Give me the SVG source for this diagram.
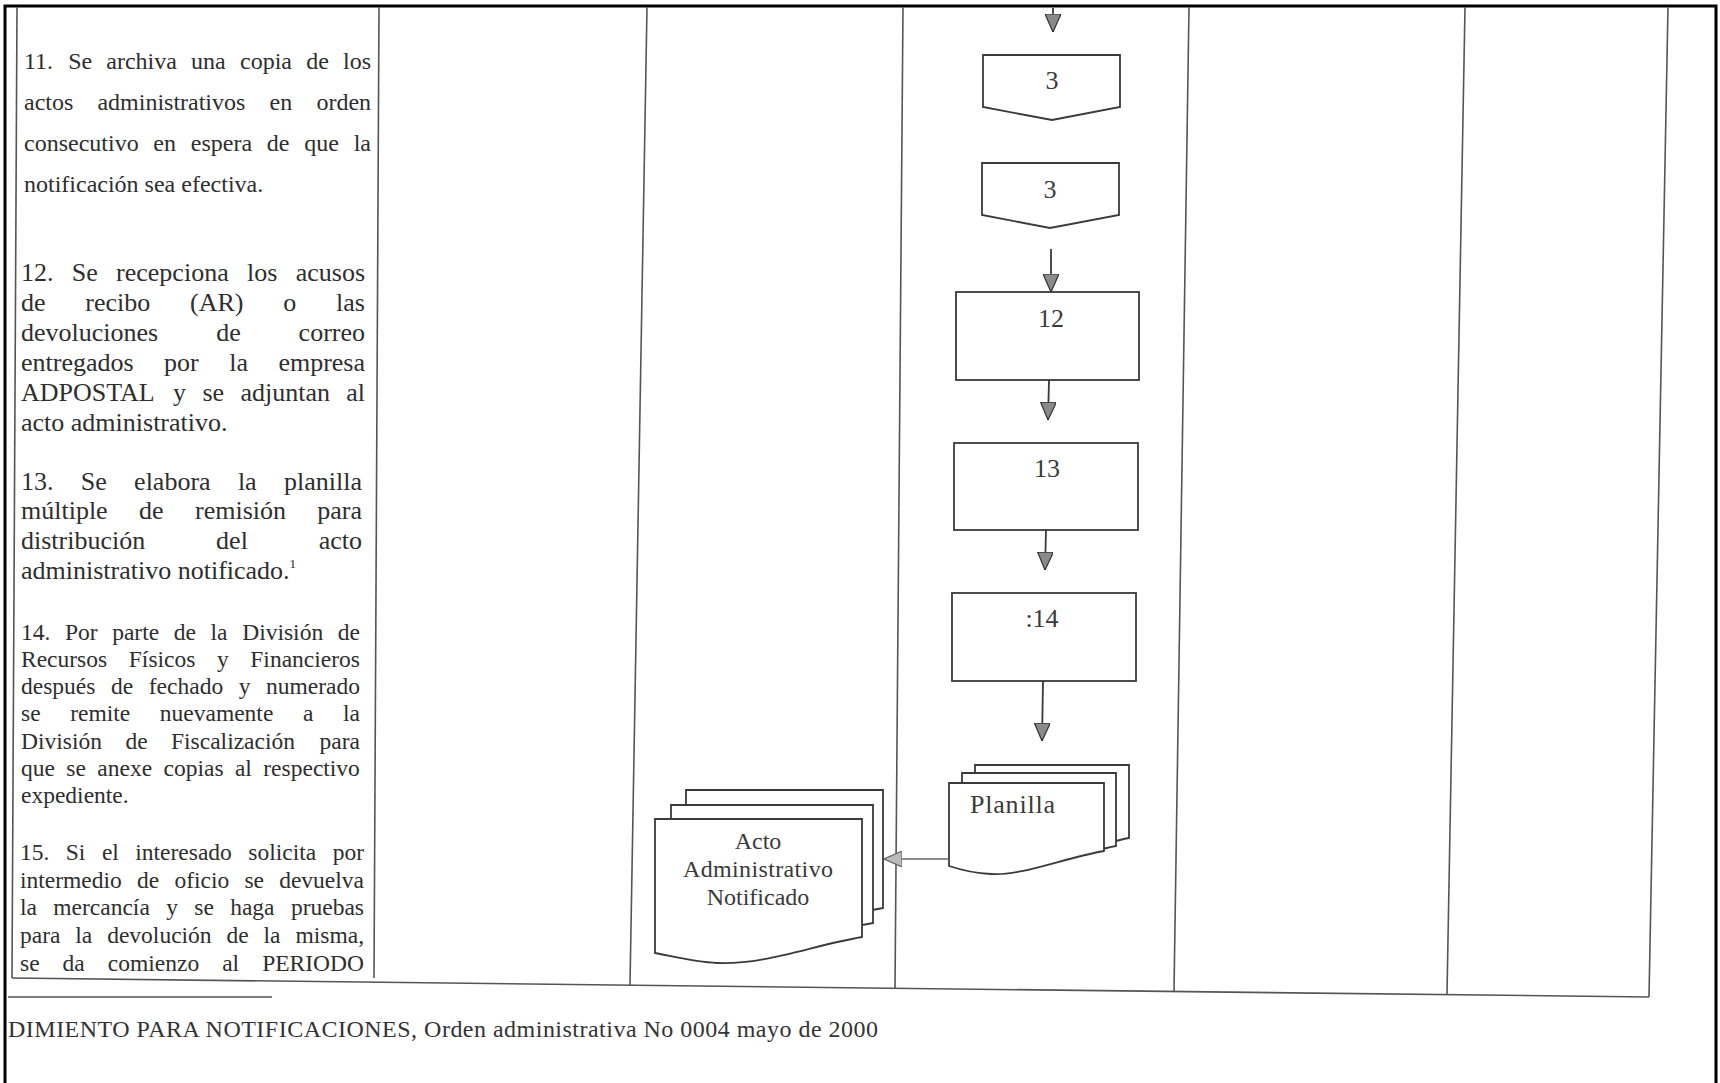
<svg xmlns="http://www.w3.org/2000/svg" width="1720" height="1083" viewBox="0 0 1720 1083">
<style>
.frame{fill:none;stroke:#000;stroke-width:3}
.grid{fill:none;stroke:#555;stroke-width:1.6}
.p{font-family:"Liberation Serif","Times New Roman",serif;fill:#2e2e2e}
.p11{font-size:24px}
.p12{font-size:26px}
.p14{font-size:23.5px}
.shape{fill:#fff;stroke:#3a3a3a;stroke-width:1.8}
.lbl{font-family:"Liberation Serif","Times New Roman",serif;font-size:26px;fill:#3a3a3a;text-anchor:middle}
.doclbl{font-family:"Liberation Serif","Times New Roman",serif;font-size:24px;fill:#3a3a3a;text-anchor:middle}
.conn{fill:none;stroke:#3a3a3a;stroke-width:1.8}
.connl{fill:none;stroke:#666;stroke-width:1.4}
.foot{font-family:"Liberation Serif","Times New Roman",serif;font-size:24px;fill:#333}
</style>
<defs>
<marker id="ah" viewBox="0 0 18 16" refX="18" refY="8" markerWidth="18" markerHeight="16" markerUnits="userSpaceOnUse" orient="auto">
<path d="M0,0 L18,8 L0,16 Z" fill="#8a8a8a" stroke="#333" stroke-width="1.2"/>
</marker>
<marker id="ahl" viewBox="0 0 18 16" refX="18" refY="8" markerWidth="18" markerHeight="16" markerUnits="userSpaceOnUse" orient="auto">
<path d="M0,0 L18,8 L0,16 Z" fill="#bbb" stroke="#666" stroke-width="1.2"/>
</marker>
</defs>
<rect width="1720" height="1083" fill="#fff"/>

<g id="frame">
<path class="frame" d="M5,1083 V6 H1716 V1083"/>
<path class="grid" d="M17,7 L12,978"/>
<path class="grid" d="M379,7 L374,978"/>
<path class="grid" d="M647,7 L630,985"/>
<path class="grid" d="M903,7 L895,988"/>
<path class="grid" d="M1189,7 L1174,991"/>
<path class="grid" d="M1465,7 L1447,994"/>
<path class="grid" d="M1668,7 L1649,997"/>
<path class="grid" d="M12,978 L1649,997"/>
<path class="grid" d="M8,997 L272,997"/>
</g>

<g id="text-column">
<text class="p p11"><tspan x="24" y="69">11.</tspan><tspan x="68.2" y="69">Se</tspan><tspan x="106.3" y="69">archiva</tspan><tspan x="191.1" y="69">una</tspan><tspan x="240" y="69">copia</tspan><tspan x="306.2" y="69">de</tspan><tspan x="343" y="69">los</tspan></text>
<text class="p p11"><tspan x="24" y="110">actos</tspan><tspan x="97.4" y="110">administrativos</tspan><tspan x="269.6" y="110">en</tspan><tspan x="316.4" y="110">orden</tspan></text>
<text class="p p11"><tspan x="24" y="151">consecutivo</tspan><tspan x="153.3" y="151">en</tspan><tspan x="190.8" y="151">espera</tspan><tspan x="266.8" y="151">de</tspan><tspan x="304.2" y="151">que</tspan><tspan x="353.7" y="151">la</tspan></text>
<text class="p p11" x="24" y="192">notificación sea efectiva.</text>

<text class="p p12"><tspan x="21" y="281">12.</tspan><tspan x="71.8" y="281">Se</tspan><tspan x="116.1" y="281">recepciona</tspan><tspan x="247" y="281">los</tspan><tspan x="295.7" y="281">acusos</tspan></text>
<text class="p p12"><tspan x="21" y="311">de</tspan><tspan x="85.3" y="311">recibo</tspan><tspan x="190.1" y="311">(AR)</tspan><tspan x="283.3" y="311">o</tspan><tspan x="336.1" y="311">las</tspan></text>
<text class="p p12"><tspan x="21" y="341">devoluciones</tspan><tspan x="216.2" y="341">de</tspan><tspan x="298.6" y="341">correo</tspan></text>
<text class="p p12"><tspan x="21" y="371">entregados</tspan><tspan x="164" y="371">por</tspan><tspan x="229.2" y="371">la</tspan><tspan x="278.4" y="371">empresa</tspan></text>
<text class="p p12"><tspan x="21" y="401">ADPOSTAL</tspan><tspan x="173.1" y="401">y</tspan><tspan x="202.4" y="401">se</tspan><tspan x="240.4" y="401">adjuntan</tspan><tspan x="346.2" y="401">al</tspan></text>
<text class="p p12" x="21" y="431">acto administrativo.</text>

<text class="p p12"><tspan x="21" y="490">13.</tspan><tspan x="80.8" y="490">Se</tspan><tspan x="134.1" y="490">elabora</tspan><tspan x="237.9" y="490">la</tspan><tspan x="284" y="490">planilla</tspan></text>
<text class="p p12"><tspan x="21" y="519">múltiple</tspan><tspan x="139.1" y="519">de</tspan><tspan x="195" y="519">remisión</tspan><tspan x="317.3" y="519">para</tspan></text>
<text class="p p12"><tspan x="21" y="549">distribución</tspan><tspan x="216.1" y="549">del</tspan><tspan x="318.7" y="549">acto</tspan></text>
<text class="p p12" x="21" y="579">administrativo notificado.<tspan font-size="13" dy="-11">1</tspan></text>

<text class="p p14"><tspan x="21" y="640">14.</tspan><tspan x="65" y="640">Por</tspan><tspan x="112.2" y="640">parte</tspan><tspan x="173.8" y="640">de</tspan><tspan x="210.6" y="640">la</tspan><tspan x="242.2" y="640">División</tspan><tspan x="337.8" y="640">de</tspan></text>
<text class="p p14"><tspan x="21" y="667">Recursos</tspan><tspan x="128.8" y="667">Físicos</tspan><tspan x="217" y="667">y</tspan><tspan x="250.3" y="667">Financieros</tspan></text>
<text class="p p14"><tspan x="21" y="694">después</tspan><tspan x="111" y="694">de</tspan><tspan x="148.8" y="694">fechado</tspan><tspan x="238.8" y="694">y</tspan><tspan x="266" y="694">numerado</tspan></text>
<text class="p p14"><tspan x="21" y="721">se</tspan><tspan x="70.2" y="721">remite</tspan><tspan x="159.8" y="721">nuevamente</tspan><tspan x="303" y="721">a</tspan><tspan x="343" y="721">la</tspan></text>
<text class="p p14"><tspan x="21" y="749">División</tspan><tspan x="125.4" y="749">de</tspan><tspan x="171" y="749">Fiscalización</tspan><tspan x="319.6" y="749">para</tspan></text>
<text class="p p14"><tspan x="21" y="776">que</tspan><tspan x="66.3" y="776">se</tspan><tspan x="97.3" y="776">anexe</tspan><tspan x="163.5" y="776">copias</tspan><tspan x="234.9" y="776">al</tspan><tspan x="263.3" y="776">respectivo</tspan></text>
<text class="p p14" x="21" y="803">expediente.</text>

<text class="p p14"><tspan x="20" y="860">15.</tspan><tspan x="65.8" y="860">Si</tspan><tspan x="101.9" y="860">el</tspan><tspan x="135.3" y="860">interesado</tspan><tspan x="248.3" y="860">solicita</tspan><tspan x="332.7" y="860">por</tspan></text>
<text class="p p14"><tspan x="20" y="888">intermedio</tspan><tspan x="137" y="888">de</tspan><tspan x="174.4" y="888">oficio</tspan><tspan x="244.4" y="888">se</tspan><tspan x="279.2" y="888">devuelva</tspan></text>
<text class="p p14"><tspan x="20" y="915">la</tspan><tspan x="53.3" y="915">mercancía</tspan><tspan x="166.2" y="915">y</tspan><tspan x="194.3" y="915">se</tspan><tspan x="230.2" y="915">haga</tspan><tspan x="290.9" y="915">pruebas</tspan></text>
<text class="p p14"><tspan x="20" y="943">para</tspan><tspan x="75.3" y="943">la</tspan><tspan x="107.2" y="943">devolución</tspan><tspan x="226.5" y="943">de</tspan><tspan x="263.6" y="943">la</tspan><tspan x="295.5" y="943">misma,</tspan></text>
<text class="p p14"><tspan x="20" y="971">se</tspan><tspan x="62.6" y="971">da</tspan><tspan x="107.8" y="971">comienzo</tspan><tspan x="222.2" y="971">al</tspan><tspan x="262.2" y="971">PERIODO</tspan></text>
</g>

<text class="foot" x="8" y="1037" textLength="870" lengthAdjust="spacing">DIMIENTO PARA NOTIFICACIONES, Orden administrativa No 0004 mayo de 2000</text>

<g id="node-offpage-3a">
<path class="shape" d="M983,55 H1120 V107 L1052,120 L983,107 Z"/>
<text class="lbl" x="1052" y="89">3</text>
</g>
<g id="node-offpage-3b">
<path class="shape" d="M982,163 H1119 V215 L1050,228 L982,215 Z"/>
<text class="lbl" x="1050" y="198">3</text>
</g>
<g id="node-12">
<rect class="shape" x="956" y="292" width="183" height="88"/>
<text class="lbl" x="1051" y="327">12</text>
</g>
<g id="node-13">
<rect class="shape" x="954" y="443" width="184" height="87"/>
<text class="lbl" x="1047" y="477">13</text>
</g>
<g id="node-14">
<rect class="shape" x="952" y="593" width="184" height="88"/>
<text class="lbl" x="1042" y="627">:14</text>
</g>
<g id="node-planilla">
<path class="shape" d="M975,765 H1129 V838 C1087,846 1047,864 1018,862 C998,861 985,857 975,854 Z"/>
<path class="shape" d="M962,773 H1116 V846 C1073,854 1033,872 1004,870 C984,869 971,865 962,862 Z"/>
<path class="shape" d="M949,783 H1104 V851 C1061,859 1021,876 991,874 C971,873 958,869 949,866 Z"/>
<text class="doclbl" x="970" y="813" style="text-anchor:start;font-size:26px" textLength="85" lengthAdjust="spacing">Planilla</text>
</g>
<g id="node-acto">
<path class="shape" d="M686,790 H883 V908 C831,917 786,936 748,934 C726,933 709,928 686,924 Z"/>
<path class="shape" d="M671,805 H873 V923 C821,932 776,951 738,949 C716,948 699,943 671,939 Z"/>
<path class="shape" d="M655,819 H862 V937 C810,946 765,965 717,963 C695,962 676,957 655,953 Z"/>
<text class="doclbl" x="758" y="849">Acto</text>
<text class="doclbl" x="758" y="877" textLength="150" lengthAdjust="spacing">Administrativo</text>
<text class="doclbl" x="758" y="905">Notificado</text>
</g>

<g id="connectors">
<path class="conn" d="M1053,8 V32" marker-end="url(#ah)"/>
<path class="conn" d="M1051,249 V292" marker-end="url(#ah)"/>
<path class="conn" d="M1049,380 L1048,420" marker-end="url(#ah)"/>
<path class="conn" d="M1046,530 L1045,570" marker-end="url(#ah)"/>
<path class="conn" d="M1043,681 L1042,741" marker-end="url(#ah)"/>
<path class="connl" d="M949,859 H884" marker-end="url(#ahl)"/>
</g>
</svg>
